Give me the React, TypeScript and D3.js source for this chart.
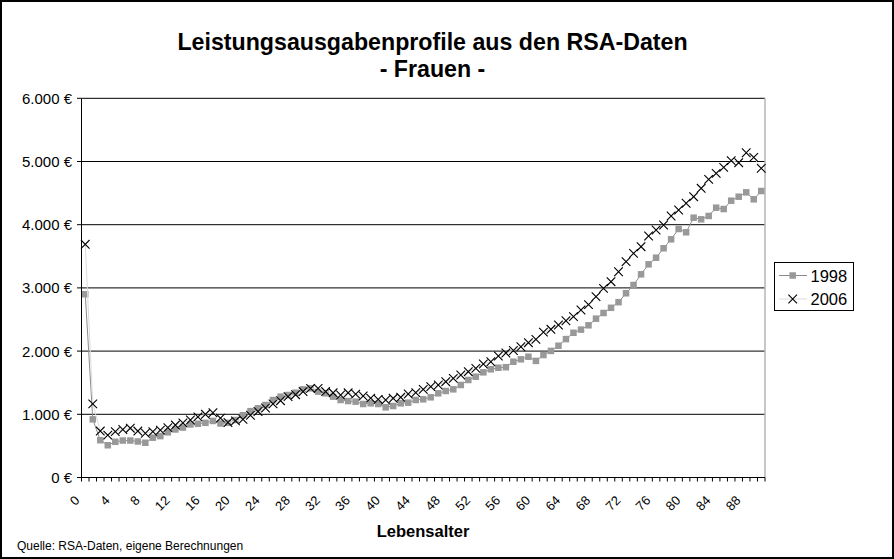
import React from "react";
import * as d3 from "d3";

const ages: number[] = Array.from({ length: 91 }, (_, i) => i);
const xTickLabels: number[] = [0, 4, 8, 12, 16, 20, 24, 28, 32, 36, 40, 44, 48, 52, 56, 60, 64, 68, 72, 76, 80, 84, 88];
const yTicks: number[] = [0, 1000, 2000, 3000, 4000, 5000, 6000];

const values1998: number[] = [
  2900, 920, 590, 510, 565, 585, 585, 570, 550, 630,
  655, 715, 760, 790, 840, 850, 865, 895, 855, 865,
  910, 985, 1050, 1095, 1147, 1226, 1279, 1305, 1342, 1395,
  1411, 1358, 1332, 1279, 1226, 1210, 1200, 1163, 1174, 1163,
  1110, 1131, 1174, 1184, 1226, 1237, 1269, 1332, 1369, 1395,
  1464, 1543, 1595, 1664, 1712, 1737, 1745, 1832, 1870, 1911,
  1845, 1938, 2003, 2085, 2190, 2290, 2340, 2408, 2513, 2603,
  2685, 2774, 2915, 3046, 3215, 3373, 3478, 3627, 3769, 3932,
  3880, 4111, 4085, 4138, 4269, 4248, 4380, 4443, 4512, 4402,
  4533,
];

const values2006: number[] = [
  3690, 1165, 735, 670, 725, 760, 780, 735, 700, 725,
  750, 790, 830, 865, 910, 960, 1000, 1025, 940, 870,
  895, 920, 985, 1045, 1100, 1165, 1215, 1280, 1310, 1360,
  1410, 1410, 1360, 1340, 1305, 1340, 1320, 1290, 1255, 1237,
  1226, 1253, 1269, 1321, 1342, 1395, 1437, 1464, 1516, 1569,
  1622, 1674, 1727, 1796, 1832, 1922, 1970, 2010, 2069, 2133,
  2186, 2300, 2345, 2413, 2480, 2545, 2650, 2735, 2861, 2993,
  3098, 3256, 3415, 3547, 3652, 3821, 3916, 3995, 4138, 4233,
  4339, 4443, 4576, 4718, 4813, 4908, 5013, 4981, 5139, 5066,
  4892,
];

const seriesNames = ["1998", "2006"];

const W = 894;
const H = 559;
const FONT = "'Liberation Sans', Arial, sans-serif";

export default function App() {
  const left = 81.5, right = 765, top = 98.3, bottom = 477.5;
  const x = d3.scaleBand<number>().domain(ages).range([left, right]).padding(0);
  const bw = x.bandwidth();
  const cx = (a: number) => (x(a) as number) + bw / 2;
  const y = d3.scaleLinear().domain([0, 6000]).range([bottom, top]);
  const fmt = (v: number) => d3.format(",")(v).replace(/,/g, ".") + " €";

  const line = d3.line<number>().x((_, i) => cx(ages[i])).y((v) => y(v));

  const boundaries = d3.range(0, ages.length + 1).map((i) => left + i * bw);

  const sq = 6.5;
  const cr = 4.3;
  const c45 = Math.SQRT1_2;
  const labelFs = 13;
  const baseOff = 0.35 * labelFs;

  return (
    <svg width={W} height={H} style={{ position: "absolute", left: 0, top: 0, display: "block" }} fontFamily={FONT}>
      <defs>
        {xTickLabels.map((a) => {
          const ax = cx(a) - 8 + baseOff * c45;
          const ay = 498 + baseOff * c45;
          const L = 60;
          return <path key={"lp" + a} id={"lp" + a} d={`M${ax - L * c45},${ay + L * c45}L${ax},${ay}`} />;
        })}
      </defs>
      <rect x={0} y={0} width={W} height={H} fill="#fff" />
      <rect x={1} y={1} width={W - 2} height={H - 2} fill="none" stroke="#000" strokeWidth={2} />

      {/* title */}
      <text x={432.5} y={50} textAnchor="middle" fontSize={23.2} fontWeight="bold">Leistungsausgabenprofile aus den RSA-Daten</text>
      <text x={432.5} y={76.5} textAnchor="middle" fontSize={23.2} fontWeight="bold">- Frauen -</text>

      {/* gridlines */}
      {yTicks.map((t) => (
        <line key={"g" + t} x1={left} x2={right} y1={y(t)} y2={y(t)} stroke="#000" strokeWidth={1} />
      ))}
      {/* right plot border */}
      <line x1={right} x2={right} y1={top} y2={bottom} stroke="#b4b4b4" strokeWidth={1.5} />

      {/* y axis */}
      <line x1={left} x2={left} y1={top} y2={bottom} stroke="#000" strokeWidth={1} />
      {yTicks.map((t) => (
        <g key={"yt" + t}>
          <line x1={left - 4.5} x2={left} y1={y(t)} y2={y(t)} stroke="#000" strokeWidth={1} />
          <text x={72} y={y(t)} dy="0.36em" textAnchor="end" fontSize={15}>{fmt(t)}</text>
        </g>
      ))}

      {/* x axis */}
      <line x1={left} x2={right} y1={bottom} y2={bottom} stroke="#000" strokeWidth={1} />
      {boundaries.map((b, i) => (
        <line key={"xt" + i} x1={b} x2={b} y1={bottom} y2={bottom + 4} stroke="#000" strokeWidth={1} />
      ))}
      {xTickLabels.map((a) => (
        <text key={"xl" + a} fontSize={labelFs} textAnchor="end">
          <textPath href={"#lp" + a} startOffset="100%">{a}</textPath>
        </text>
      ))}
      <text x={423} y={536.5} textAnchor="middle" fontSize={16.5} fontWeight="bold">Lebensalter</text>

      {/* series 1998 */}
      <path d={line(values1998) || ""} fill="none" stroke="#8c8c8c" strokeWidth={1} />
      {values1998.map((v, i) => (
        <rect key={"s" + i} x={cx(ages[i]) - sq / 2} y={y(v) - sq / 2} width={sq} height={sq} fill="#999999" />
      ))}
      {/* series 2006 */}
      <path d={line(values2006) || ""} fill="none" stroke="#dcdcdc" strokeWidth={1} />
      {values2006.map((v, i) => {
        const px = cx(ages[i]), py = y(v);
        return (
          <path key={"c" + i} d={`M${px - cr},${py - cr}L${px + cr},${py + cr}M${px - cr},${py + cr}L${px + cr},${py - cr}`}
            stroke="#000" strokeWidth={1.1} fill="none" />
        );
      })}

      {/* legend */}
      <rect x={774.5} y={262.5} width={79} height={48} fill="#fff" stroke="#000" strokeWidth={1} />
      <line x1={779} x2={807} y1={275.5} y2={275.5} stroke="#8c8c8c" strokeWidth={1} />
      <rect x={792.7 - sq / 2} y={275.5 - sq / 2} width={sq} height={sq} fill="#999999" />
      <text x={810.5} y={281.5} fontSize={16.5}>{seriesNames[0]}</text>
      <line x1={779} x2={807} y1={299} y2={299} stroke="#dcdcdc" strokeWidth={1} />
      <path d={`M${792.7 - cr},${299 - cr}L${792.7 + cr},${299 + cr}M${792.7 - cr},${299 + cr}L${792.7 + cr},${299 - cr}`} stroke="#000" strokeWidth={1.1} />
      <text x={810.5} y={305} fontSize={16.5}>{seriesNames[1]}</text>

      {/* source */}
      <text x={17} y={550} fontSize={12}>Quelle: RSA-Daten, eigene Berechnungen</text>
    </svg>
  );
}
